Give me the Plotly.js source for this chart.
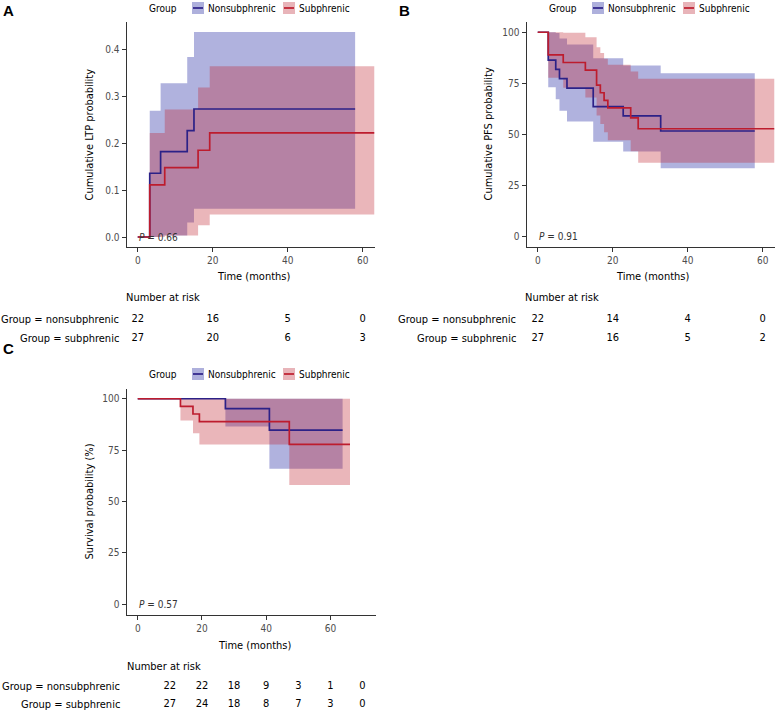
<!DOCTYPE html>
<html>
<head>
<meta charset="utf-8">
<script src="https://cdn.plot.ly/plotly-3.0.1.min.js"></script>
<style>html,body{margin:0;padding:0;background:#fff;}#chart{width:779px;height:713px;}</style>
</head>
<body>
<div id="chart"></div>
<script>
// ---------------- DATA ----------------
const groups = ['nonsubphrenic', 'subphrenic'];
const legendLabels = ['Nonsubphrenic', 'Subphrenic'];

// Panel A: cumulative LTP probability
const ltpTimesNon = [0, 3.2, 6.1, 13.2, 15.0, 58.0];
const ltpEstNon   = [0, 0.136, 0.182, 0.227, 0.273, 0.273];
const ltpLowNon   = [0, 0, 0.003, 0.031, 0.060, 0.060];
const ltpUpNon    = [0, 0.269, 0.328, 0.384, 0.437, 0.437];
const ltpTimesSub = [0, 3.2, 7.2, 16.1, 19.2, 63.1];
const ltpEstSub   = [0, 0.111, 0.148, 0.185, 0.222, 0.222];
const ltpLowSub   = [0, 0, 0.003, 0.025, 0.048, 0.048];
const ltpUpSub    = [0, 0.222, 0.272, 0.319, 0.364, 0.364];

// Panel B: cumulative PFS probability (%)
const pfsTimesNon = [0, 2.8, 4.8, 5.8, 7.8, 14.8, 22.8, 32.8, 57.9];
const pfsEstNon   = [100, 86.4, 81.8, 77.3, 72.7, 63.6, 59.1, 51.7, 51.7];
const pfsUpNon    = [100, 100, 99.6, 96.9, 94.0, 87.3, 83.7, 79.9, 79.9];
const pfsLowNon   = [100, 73.1, 67.2, 61.6, 56.3, 46.4, 41.7, 33.5, 33.5];
const pfsTimesSub = [0, 2.8, 6.8, 12.7, 15.7, 16.7, 17.7, 18.7, 24.8, 26.8, 63.1];
const pfsEstSub   = [100, 88.9, 85.2, 81.5, 74.1, 70.4, 66.7, 63.0, 58.1, 52.8, 52.8];
const pfsUpSub    = [100, 100, 99.7, 97.5, 92.6, 89.9, 87.0, 84.1, 80.8, 77.2, 77.2];
const pfsLowSub   = [100, 77.8, 72.8, 68.1, 59.3, 55.1, 51.1, 47.2, 41.8, 36.2, 36.2];

// Panel C: survival probability (%)
const osTimesNon = [0, 27.3, 41.0, 63.8];
const osEstNon   = [100, 95.2, 84.7, 84.7];
const osUpNon    = [100, 100, 100, 100];
const osLowNon   = [100, 86.5, 65.9, 65.9];
const osTimesSub = [0, 13.3, 17.2, 19.2, 47.2, 66.1];
const osEstSub   = [100, 96.3, 92.6, 88.9, 77.8, 77.8];
const osUpSub    = [100, 100, 100, 100, 100, 100];
const osLowSub   = [100, 89.4, 83.2, 77.8, 58.0, 58.0];

// Number at risk
const riskTimesAB = [0, 20, 40, 60];
const ltpRiskNon = [22, 16, 5, 0];
const ltpRiskSub = [27, 20, 6, 3];
const pfsRiskNon = [22, 14, 4, 0];
const pfsRiskSub = [27, 16, 5, 2];
const riskTimesC = [10, 20, 30, 40, 50, 60, 70];
const osRiskNon = [22, 22, 18, 9, 3, 1, 0];
const osRiskSub = [27, 24, 18, 8, 7, 3, 0];

// Axis ticks and labels
const xTicks = [0, 20, 40, 60];
const ltpTicks = [0, 0.1, 0.2, 0.3, 0.4];
const pctTicks = [0, 25, 50, 75, 100];
const pValues = ['0.66', '0.91', '0.57'];
const yTitles = ['Cumulative LTP probability', 'Cumulative PFS probability', 'Survival probability (%)'];
const xTitle = 'Time (months)';
const panelLetters = ['A', 'B', 'C'];

// ---------------- STYLE ----------------
const W = 779, H = 713;
const px = x => x / W;
const py = y => 1 - y / H;
const FONT = '"DejaVu Sans Condensed", "Liberation Sans", Arial, sans-serif';
const BLUE = '#2c2187';
const RED = '#bd1c2e';
const BLUE_FILL = 'rgba(28,34,160,0.35)';
const RED_FILL = 'rgba(190,32,46,0.33)';
const BLUE_KEY = '#aeb0dc';
const RED_KEY = '#e8b4b9';

const traces = [];
function addGroup(xa, ya, t, est, lo, up, color, fill) {
  traces.push({x: t, y: lo, xaxis: xa, yaxis: ya, mode: 'lines', line: {width: 0, shape: 'hv'}, hoverinfo: 'skip', showlegend: false});
  traces.push({x: t, y: up, xaxis: xa, yaxis: ya, mode: 'lines', line: {width: 0, shape: 'hv'}, fill: 'tonexty', fillcolor: fill, hoverinfo: 'skip', showlegend: false});
}
function addLine(xa, ya, t, est, color) {
  traces.push({x: t, y: est, xaxis: xa, yaxis: ya, mode: 'lines', line: {width: 1.7, shape: 'hv', color: color}, showlegend: false});
}
// bands
addGroup('x', 'y', ltpTimesNon, ltpEstNon, ltpLowNon, ltpUpNon, BLUE, BLUE_FILL);
addGroup('x', 'y', ltpTimesSub, ltpEstSub, ltpLowSub, ltpUpSub, RED, RED_FILL);
addLine('x', 'y', ltpTimesNon, ltpEstNon, BLUE);
addLine('x', 'y', ltpTimesSub, ltpEstSub, RED);
addGroup('x2', 'y2', pfsTimesNon, pfsEstNon, pfsLowNon, pfsUpNon, BLUE, BLUE_FILL);
addGroup('x2', 'y2', pfsTimesSub, pfsEstSub, pfsLowSub, pfsUpSub, RED, RED_FILL);
addLine('x2', 'y2', pfsTimesNon, pfsEstNon, BLUE);
addLine('x2', 'y2', pfsTimesSub, pfsEstSub, RED);
addGroup('x3', 'y3', osTimesNon, osEstNon, osLowNon, osUpNon, BLUE, BLUE_FILL);
addGroup('x3', 'y3', osTimesSub, osEstSub, osLowSub, osUpSub, RED, RED_FILL);
addLine('x3', 'y3', osTimesNon, osEstNon, BLUE);
addLine('x3', 'y3', osTimesSub, osEstSub, RED);

// risk tables: row 2 = nonsubphrenic, row 1 = subphrenic
function addRisk(xa, ya, times, vals, row) {
  traces.push({x: times, y: times.map(() => row), text: vals.map(String), xaxis: xa, yaxis: ya, mode: 'text',
    textfont: {family: FONT, size: 11, color: '#000'}, textposition: 'middle center', cliponaxis: false, hoverinfo: 'skip', showlegend: false});
}
addRisk('x', 'y4', riskTimesAB, ltpRiskNon, 2);
addRisk('x', 'y4', riskTimesAB, ltpRiskSub, 1);
addRisk('x2', 'y5', riskTimesAB, pfsRiskNon, 2);
addRisk('x2', 'y5', riskTimesAB, pfsRiskSub, 1);
addRisk('x3', 'y6', riskTimesC, osRiskNon, 2);
addRisk('x3', 'y6', riskTimesC, osRiskSub, 1);

const axisStyle = {
  showline: true, linecolor: '#333', linewidth: 1, ticks: 'outside', ticklen: 4, tickwidth: 1, tickcolor: '#333',
  showgrid: false, zeroline: false, fixedrange: true, tickfont: {family: FONT, size: 10, color: '#4d4d4d'}
};
function tableAxis(anchor, topPx, botPx, rowNonPx, rowSubPx) {
  const s = rowSubPx - rowNonPx;
  return {domain: [py(botPx), py(topPx)], range: [1 - (botPx - rowSubPx) / s, 2 + (rowNonPx - topPx) / s], anchor: anchor, visible: false, fixedrange: true};
}

const layout = {
  width: W, height: H, margin: {l: 0, r: 0, t: 0, b: 0},
  paper_bgcolor: '#fff', plot_bgcolor: 'rgba(0,0,0,0)', showlegend: false,
  font: {family: FONT, size: 11, color: '#000'},
  xaxis: Object.assign({}, axisStyle, {domain: [px(126.5), px(375)], range: [-3.0, 63.3], anchor: 'y', tickvals: xTicks}),
  yaxis: Object.assign({}, axisStyle, {domain: [py(247), py(22)], range: [-0.0213, 0.4585], anchor: 'x', tickvals: ltpTicks, tickformat: '.1f'}),
  xaxis2: Object.assign({}, axisStyle, {domain: [px(526.5), px(775)], range: [-3.0, 63.3], anchor: 'y2', tickvals: xTicks}),
  yaxis2: Object.assign({}, axisStyle, {domain: [py(247), py(22)], range: [-5, 105], anchor: 'x2', tickvals: pctTicks}),
  xaxis3: Object.assign({}, axisStyle, {domain: [px(126.5), px(376)], range: [-3.5, 74.2], anchor: 'y3', tickvals: xTicks}),
  yaxis3: Object.assign({}, axisStyle, {domain: [py(614.5), py(388.5)], range: [-5, 105], anchor: 'x3', tickvals: pctTicks}),
  yaxis4: tableAxis('x', 308, 350, 319, 338),
  yaxis5: tableAxis('x2', 308, 350, 319, 338),
  yaxis6: tableAxis('x3', 676, 713, 686, 704),
  annotations: [], shapes: []
};
const A = layout.annotations, S = layout.shapes;
function txt(text, x, y, opts) {
  A.push(Object.assign({text: text, xref: 'paper', yref: 'paper', x: px(x), y: py(y), showarrow: false,
    xanchor: 'left', yanchor: 'middle', font: {family: FONT, size: 11, color: '#000'}}, opts || {}));
}
// panel letters
txt('<b>' + panelLetters[0] + '</b>', 1, 11, {font: {family: 'Liberation Sans, Arial, sans-serif', size: 15, color: '#000'}});
txt('<b>' + panelLetters[1] + '</b>', 397, 11, {font: {family: 'Liberation Sans, Arial, sans-serif', size: 15, color: '#000'}});
txt('<b>' + panelLetters[2] + '</b>', 1, 348, {font: {family: 'Liberation Sans, Arial, sans-serif', size: 15, color: '#000'}});

// legends
function legend(dx, yc) {
  txt('Group', 147 + dx, yc, {font: {family: FONT, size: 10, color: '#000'}});
  const keys = [[192, BLUE_KEY, BLUE, legendLabels[0], 206], [283, RED_KEY, RED, legendLabels[1], 297]];
  keys.forEach(k => {
    S.push({type: 'rect', xref: 'paper', yref: 'paper', x0: px(k[0] + dx), x1: px(k[0] + 12 + dx), y0: py(yc + 6), y1: py(yc - 6), fillcolor: k[1], line: {width: 0}, layer: 'above'});
    S.push({type: 'line', xref: 'paper', yref: 'paper', x0: px(k[0] + 1 + dx), x1: px(k[0] + 11 + dx), y0: py(yc), y1: py(yc), line: {color: k[2], width: 1.7}, layer: 'above'});
    txt(k[3], k[4] + dx, yc, {font: {family: FONT, size: 10, color: '#000'}});
  });
}
legend(0, 8);
legend(400, 8);
legend(0, 374);

// y titles
txt(yTitles[0], 89, 134.5, {textangle: -90, xanchor: 'center'});
txt(yTitles[1], 488, 134.5, {textangle: -90, xanchor: 'center'});
txt(yTitles[2], 89, 501.5, {textangle: -90, xanchor: 'center'});
// x titles
txt(xTitle, 253, 276, {xanchor: 'center'});
txt(xTitle, 652, 276, {xanchor: 'center'});
txt(xTitle, 254, 645, {xanchor: 'center'});
// p values
[['x', 'y'], ['x2', 'y2'], ['x3', 'y3']].forEach((ax, i) => {
  A.push({text: '<i>P</i> = ' + pValues[i], xref: ax[0], yref: ax[1], x: -0.3, y: 0, showarrow: false,
    xanchor: 'left', yanchor: 'middle', font: {family: FONT, size: 10, color: '#333'}});
});
// risk table headers & row labels
function riskHeader(xLeft, yHead, labelRight, ya) {
  txt('Number at risk', xLeft, yHead);
  A.push({text: 'Group = ' + groups[0], xref: 'paper', yref: ya, x: px(labelRight), y: 2, showarrow: false, xanchor: 'right', yanchor: 'middle', font: {family: FONT, size: 11, color: '#000'}});
  A.push({text: 'Group = ' + groups[1], xref: 'paper', yref: ya, x: px(labelRight), y: 1, showarrow: false, xanchor: 'right', yanchor: 'middle', font: {family: FONT, size: 11, color: '#000'}});
}
riskHeader(124, 297, 121, 'y4');
riskHeader(523, 297, 518, 'y5');
riskHeader(125, 666, 122, 'y6');

Plotly.newPlot('chart', traces, layout, {displayModeBar: false, staticPlot: true});
</script>
</body>
</html>
